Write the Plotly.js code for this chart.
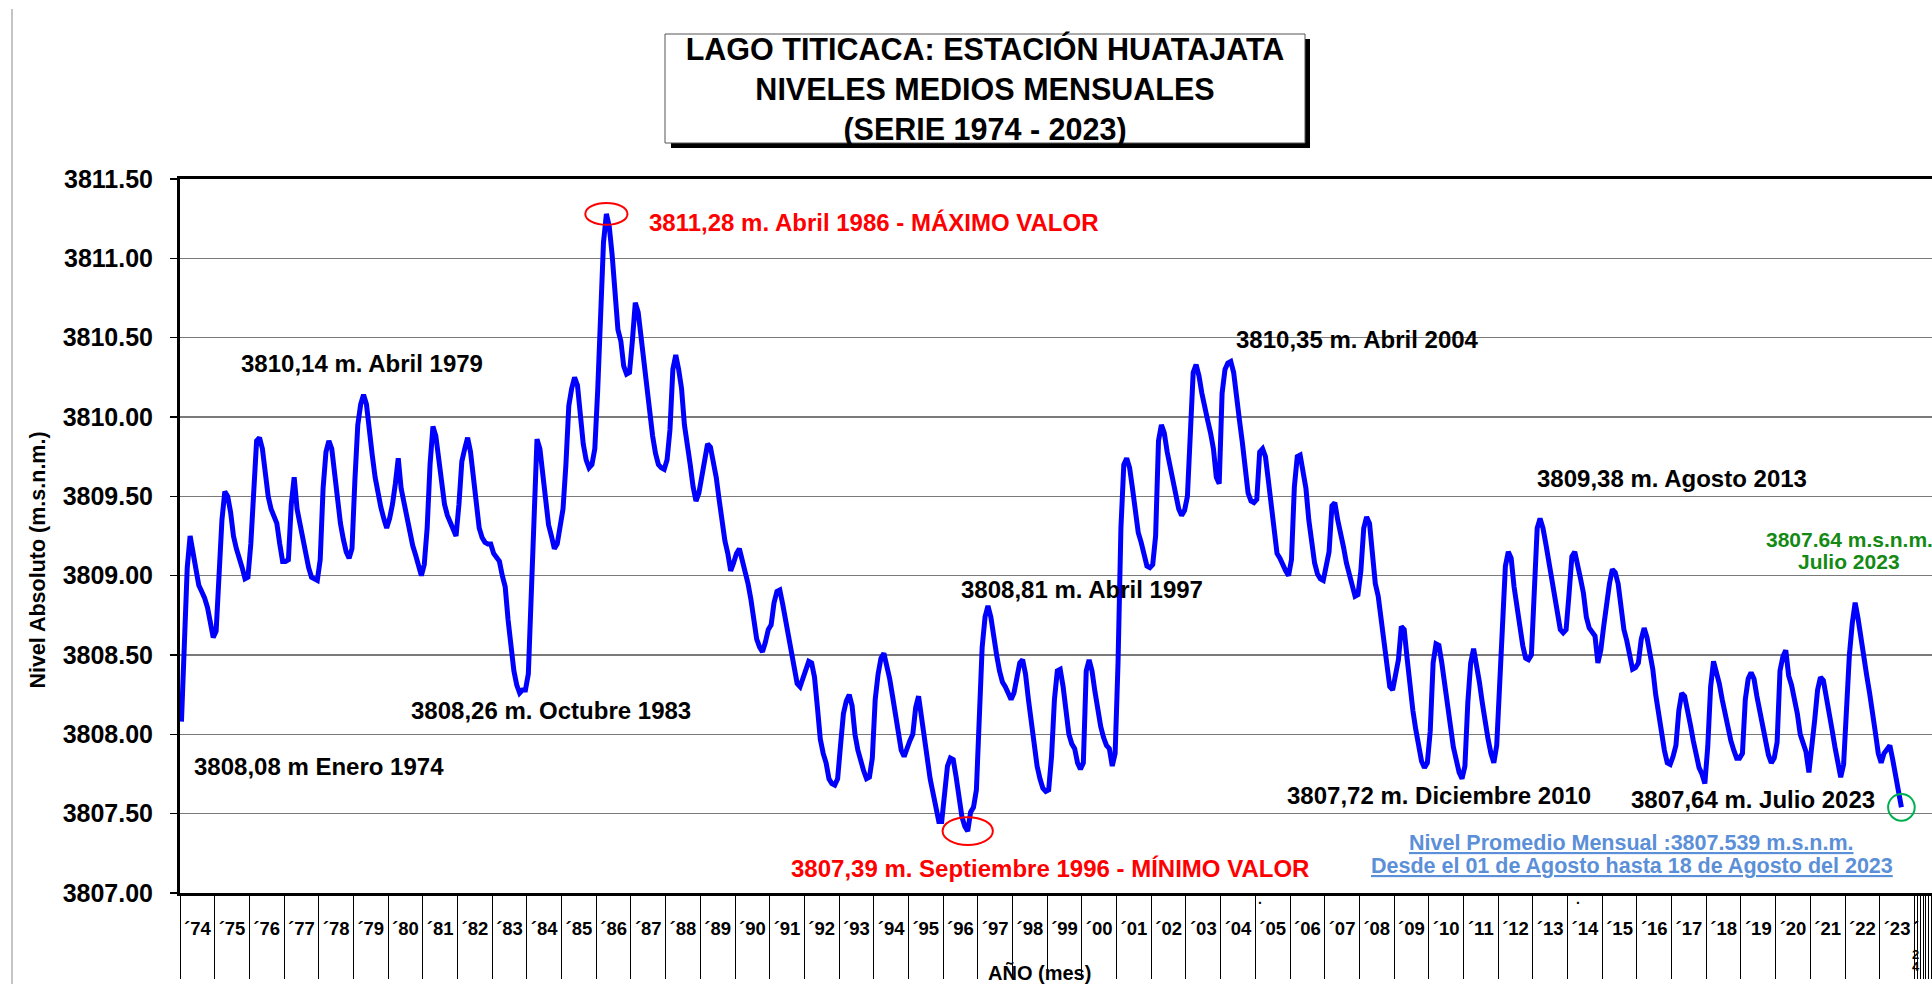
<!DOCTYPE html>
<html>
<head>
<meta charset="utf-8">
<script src="https://cdn.plot.ly/plotly-3.0.1.min.js"></script>
<style>html,body{margin:0;padding:0;background:#fff;}#chart{width:1932px;height:984px;}</style>
</head>
<body>
<div id="chart"></div>
<script>
// Monthly mean levels (m.s.n.m.), Huatajata station, Jan 1974 - Aug 2023
const nivel1974_1979 = [
 3808.08,3808.60,3809.05,3809.25,3809.15,3809.02,3808.94,3808.90,3808.86,3808.80,3808.70,3808.61,
 3808.65,3809.00,3809.35,3809.53,3809.50,3809.40,3809.25,3809.17,3809.12,3809.05,3808.98,3808.99,
 3809.20,3809.60,3809.85,3809.87,3809.80,3809.65,3809.50,3809.42,3809.38,3809.33,3809.20,3809.09,
 3809.09,3809.10,3809.45,3809.62,3809.42,3809.33,3809.25,3809.13,3809.05,3808.99,3808.98,3808.97,
 3809.10,3809.55,3809.78,3809.85,3809.80,3809.62,3809.48,3809.33,3809.23,3809.15,3809.11,3809.17,
 3809.60,3809.95,3810.08,3810.14,3810.08,3809.88,3809.76,3809.62,3809.50,3809.43,3809.36,3809.30
];
const nivel1980s = [
 3809.36,3809.45,3809.58,3809.74,3809.55,3809.45,3809.35,3809.25,3809.19,3809.13,3809.07,3809.00,
 3809.07,3809.30,3809.70,3809.94,3809.88,3809.75,3809.58,3809.45,3809.38,3809.33,3809.29,3809.25,
 3809.45,3809.72,3809.80,3809.87,3809.78,3809.63,3809.45,3809.30,3809.24,3809.21,3809.20,3809.20,
 3809.14,3809.11,3809.09,3809.00,3808.93,3808.72,3808.56,3808.40,3808.31,3808.26,3808.28,3808.28,
 3808.38,3808.95,3809.50,3809.86,3809.80,3809.62,3809.45,3809.32,3809.25,3809.17,3809.20,3809.32,
 3809.42,3809.70,3810.07,3810.18,3810.25,3810.20,3810.00,3809.83,3809.73,3809.68,3809.70,3809.80,
 3810.17,3810.72,3811.10,3811.28,3811.20,3811.02,3810.82,3810.55,3810.48,3810.32,3810.27,3810.28,
 3810.48,3810.72,3810.66,3810.50,3810.33,3810.17,3810.02,3809.88,3809.77,3809.70,3809.68,3809.67,
 3809.73,3809.92,3810.30,3810.39,3810.30,3810.18,3809.95,3809.84,3809.70,3809.56,3809.47,3809.52,
 3809.62,3809.75,3809.83,3809.81,3809.72,3809.62,3809.48,3809.34,3809.22,3809.14,3809.03,3809.08
];
const nivel1990s = [
 3809.14,3809.17,3809.10,3809.03,3808.95,3808.85,3808.74,3808.60,3808.55,3808.52,3808.58,3808.66,
 3808.69,3808.83,3808.90,3808.91,3808.82,3808.72,3808.62,3808.50,3808.40,3808.32,3808.30,3808.35,
 3808.42,3808.46,3808.45,3808.36,3808.17,3807.97,3807.88,3807.82,3807.72,3807.69,3807.68,3807.72,
 3807.93,3808.13,3808.21,3808.25,3808.18,3808.00,3807.90,3807.82,3807.77,3807.72,3807.73,3807.85,
 3808.22,3808.38,3808.48,3808.51,3808.44,3808.35,3808.24,3808.12,3807.97,3807.90,3807.86,3807.92,
 3807.96,3808.00,3808.17,3808.24,3808.10,3807.98,3807.84,3807.72,3807.63,3807.54,3807.45,3807.45,
 3807.62,3807.80,3807.85,3807.84,3807.73,3807.58,3807.48,3807.42,3807.39,3807.51,3807.54,3807.65,
 3808.15,3808.55,3808.74,3808.81,3808.74,3808.60,3808.50,3808.40,3808.33,3808.30,3808.26,3808.22,
 3808.26,3808.38,3808.45,3808.47,3808.38,3808.22,3808.07,3807.93,3807.80,3807.72,3807.66,3807.64,
 3807.65,3807.86,3808.22,3808.40,3808.41,3808.30,3808.12,3808.00,3807.94,3807.91,3807.82,3807.78
];
const nivel2000s = [
 3807.82,3808.40,3808.47,3808.40,3808.27,3808.15,3808.05,3807.98,3807.93,3807.91,3807.80,3807.88,
 3808.45,3809.30,3809.70,3809.74,3809.68,3809.55,3809.40,3809.27,3809.21,3809.13,3809.06,3809.05,
 3809.07,3809.25,3809.85,3809.95,3809.90,3809.78,3809.68,3809.60,3809.52,3809.42,3809.38,3809.41,
 3809.50,3809.90,3810.28,3810.33,3810.26,3810.15,3810.05,3809.98,3809.90,3809.80,3809.62,3809.58,
 3810.15,3810.30,3810.34,3810.35,3810.28,3810.09,3809.98,3809.84,3809.67,3809.52,3809.47,3809.46,
 3809.48,3809.78,3809.80,3809.75,3809.60,3809.45,3809.30,3809.14,3809.11,3809.06,3809.03,3809.00,
 3809.10,3809.56,3809.75,3809.76,3809.67,3809.55,3809.35,3809.20,3809.08,3809.01,3808.98,3808.97,
 3809.06,3809.15,3809.44,3809.46,3809.35,3809.28,3809.18,3809.08,3809.00,3808.92,3808.87,3808.88,
 3809.03,3809.30,3809.37,3809.33,3809.10,3808.95,3808.87,3808.72,3808.55,3808.40,3808.30,3808.28,
 3808.39,3808.47,3808.68,3808.66,3808.48,3808.30,3808.15,3808.03,3807.92,3807.83,3807.79,3807.82
];
const nivel2010s = [
 3808.02,3808.45,3808.57,3808.56,3808.45,3808.32,3808.18,3808.03,3807.92,3807.84,3807.76,3807.72,
 3807.80,3808.20,3808.45,3808.54,3808.45,3808.33,3808.20,3808.07,3807.97,3807.88,3807.82,3807.93,
 3808.30,3808.72,3809.06,3809.15,3809.11,3808.93,3808.80,3808.66,3808.56,3808.48,3808.47,3808.50,
 3808.85,3809.30,3809.36,3809.30,3809.20,3809.10,3809.00,3808.90,3808.78,3808.66,3808.64,3808.66,
 3808.88,3809.12,3809.15,3809.08,3808.98,3808.89,3808.74,3808.67,3808.65,3808.62,3808.45,3808.53,
 3808.68,3808.83,3808.95,3809.04,3809.02,3808.95,3808.78,3808.66,3808.59,3808.50,3808.41,3808.42,
 3808.45,3808.60,3808.67,3808.61,3808.50,3808.41,3808.25,3808.12,3808.00,3807.90,3807.82,3807.81,
 3807.86,3807.93,3808.15,3808.26,3808.24,3808.16,3808.06,3807.96,3807.87,3807.79,3807.75,3807.69,
 3807.92,3808.30,3808.46,3808.40,3808.32,3808.22,3808.13,3808.04,3807.96,3807.90,3807.85,3807.85,
 3807.88,3808.22,3808.35,3808.39,3808.35,3808.24,3808.14,3808.03,3807.94,3807.87,3807.82,3807.85
];
const nivel2020s = [
 3807.95,3808.40,3808.49,3808.53,3808.37,3808.31,3808.22,3808.13,3808.00,3807.95,3807.89,3807.76,
 3807.90,3808.09,3808.28,3808.36,3808.34,3808.25,3808.13,3808.03,3807.92,3807.80,3807.73,3807.81,
 3808.18,3808.50,3808.70,3808.83,3808.73,3808.60,3808.46,3808.37,3808.26,3808.15,3808.01,3807.88,
 3807.82,3807.88,3807.90,3807.93,3807.84,3807.72,3807.64,3807.54
];
const yearLabels = ["´74","´75","´76","´77","´78","´79","´80","´81","´82","´83","´84","´85","´86","´87","´88","´89",
 "´90","´91","´92","´93","´94","´95","´96","´97","´98","´99","´00","´01","´02","´03","´04","´05","´06","´07","´08","´09",
 "´10","´11","´12","´13","´14","´15","´16","´17","´18","´19","´20","´21","´22","´23"];
const extraLabel = "´";

const niveles = [].concat(nivel1974_1979, nivel1980s, nivel1990s, nivel2000s, nivel2010s, nivel2020s);
const meses = niveles.map((v, i) => i + 0.5);

// axis helpers (month index axis, Jan 1974 = 0)
const nYears = yearLabels.length;
const yearBounds = [];
for (let k = 0; k <= nYears; k++) yearBounds.push(12 * k);
for (let k = 1; k <= 6; k++) yearBounds.push(12 * nYears + k);
const yearMids = yearLabels.map((l, k) => 12 * k + 6).concat([12 * nYears + 0.6]);
const yearTicktext = yearLabels.concat([extraLabel]);

const FONT = "Liberation Sans, Arial, Helvetica, sans-serif";
const iMax = niveles.indexOf(Math.max(...niveles));
const iMin = niveles.indexOf(Math.min(...niveles));
const iLast = niveles.length - 1;

function ell(i, dx, dy, color) {
  return {type: 'circle', xref: 'x', yref: 'y', x0: meses[i] - dx, x1: meses[i] + dx,
          y0: niveles[i] - dy, y1: niveles[i] + dy, line: {color: color, width: 2}, fillcolor: 'rgba(0,0,0,0)'};
}
function px(X) { return (X - 180) / 1752; }
function py(Y) { return (893 - Y) / 714; }

function ann(text, x, y, color, size, extra) {
  return Object.assign({text: text, x: x, y: y, xref: 'x', yref: 'y', showarrow: false,
    xanchor: 'center', yanchor: 'middle',
    font: {family: FONT, size: size, color: color, weight: 'bold'}}, extra || {});
}

const annotations = [
  ann("3811,28 m. Abril 1986 - MÁXIMO VALOR", 239.9, 3811.225, "#ff0000", 24),
  ann("3810,14 m. Abril 1979", 63.1, 3810.339, "#000000", 24),
  ann("3810,35 m. Abril 2004", 407.2, 3810.491, "#000000", 24),
  ann("3809,38 m. Agosto 2013", 516.2, 3809.61, "#000000", 24),
  ann("3807.64 m.s.n.m.", 577.4, 3809.227, "#148a14", 21),
  ann("Julio 2023", 577.4, 3809.09, "#148a14", 21),
  ann("3808,81 m. Abril 1997", 312.0, 3808.913, "#000000", 24),
  ann("3808,26 m. Octubre 1983", 128.3, 3808.151, "#000000", 24),
  ann("3808,08 m Enero 1974", 48.1, 3807.799, "#000000", 24),
  ann("3807,72 m. Diciembre 2010", 435.4, 3807.614, "#000000", 24),
  ann("3807,64 m. Julio 2023", 544.3, 3807.589, "#000000", 24),
  ann("3807,39 m. Septiembre 1996 - MÍNIMO VALOR", 301.1, 3807.152, "#ff0000", 24),
  ann("<u>Nivel Promedio Mensual :3807.539 m.s.n.m.</u>", 502.2, 3807.318, "#5b8fd8", 21.5),
  ann("<u>Desde el 01 de Agosto hasta 18 de Agosto del 2023</u>", 502.3, 3807.173, "#5b8fd8", 21.5),
  ann("AÑO (mes)", 297.2, py(973.4), "#000000", 20, {yref: 'paper'}),
  ann("Nivel Absoluto (m.s.n.m.)", px(38), py(560.6), "#000000", 21.5, {xref: 'paper', yref: 'paper', textangle: -90}),
  ann(".", 373.6, py(899), "#000000", 14, {yref: 'paper'}),
  ann(".", 483.6, py(899), "#000000", 14, {yref: 'paper'}),
  ann("2", 600.5, py(955), "#000000", 13, {yref: 'paper'}),
  ann("4", 600.5, py(966), "#000000", 13, {yref: 'paper'})
];

const shapes = [
  {type: 'rect', xref: 'paper', yref: 'paper', x0: px(671), x1: px(1310), y0: py(148), y1: py(39),
   fillcolor: '#000000', line: {width: 0}},
  {type: 'rect', xref: 'paper', yref: 'paper', x0: px(665), x1: px(1305), y0: py(143), y1: py(34),
   fillcolor: '#ffffff', line: {color: '#555555', width: 1}},
  {type: 'line', xref: 'paper', yref: 'paper', x0: px(12), x1: px(12), y0: py(984), y1: py(9),
   line: {color: '#8a8a8a', width: 1}},
  ell(iMax, 7.3, 0.069, '#ff0000'),
  ell(iMin, 8.7, 0.088, '#ff0000'),
  ell(iLast, 4.6, 0.084, '#00b050')
];

const traces = [
  {x: meses, y: niveles, type: 'scatter', mode: 'lines', line: {color: '#0000ff', width: 5},
   hoverinfo: 'x+y', showlegend: false},
  {x: [], y: [], type: 'scatter', mode: 'lines', xaxis: 'x2', yaxis: 'y', showlegend: false, hoverinfo: 'skip'}
];

const layout = {
  width: 1932, height: 984,
  margin: {l: 180, r: 0, t: 179, b: 91, pad: 0},
  paper_bgcolor: '#ffffff', plot_bgcolor: '#ffffff',
  showlegend: false,
  title: {
    text: "LAGO TITICACA: ESTACIÓN HUATAJATA<br>NIVELES MEDIOS MENSUALES<br>(SERIE 1974 - 2023)",
    font: {family: FONT, size: 30.5, color: '#000000', weight: 'bold'},
    xref: 'container', yref: 'container', x: 985 / 1932, xanchor: 'center',
    y: 1 - 60.2 / 984, yanchor: 'middle'
  },
  xaxis: {
    range: [0, 1752 / 2.8907], autorange: false, fixedrange: true,
    tickmode: 'array', tickvals: yearBounds, showticklabels: false,
    ticks: 'outside', ticklen: 83, tickwidth: 1, tickcolor: '#000000',
    showline: true, linewidth: 3, linecolor: '#000000', mirror: true,
    showgrid: false, zeroline: false
  },
  xaxis2: {
    overlaying: 'x', anchor: 'y', side: 'bottom',
    range: [0, 1752 / 2.8907], autorange: false, fixedrange: true,
    tickmode: 'array', tickvals: yearMids, ticktext: yearTicktext,
    ticks: '', showline: false, showgrid: false, zeroline: false,
    ticklabelstandoff: 22,
    tickfont: {family: FONT, size: 18.5, color: '#000000', weight: 'bold'}
  },
  yaxis: {
    range: [3807, 3811.5], autorange: false, fixedrange: true,
    tickmode: 'linear', tick0: 3807, dtick: 0.5, tickformat: '.2f',
    ticks: 'outside', ticklen: 7, tickwidth: 1.5, tickcolor: '#000000',
    ticklabelstandoff: 12,
    tickfont: {family: FONT, size: 25, color: '#000000', weight: 'bold'},
    showline: true, linewidth: 3, linecolor: '#000000',
    showgrid: true, gridcolor: '#7a7a7a', gridwidth: 1.3, zeroline: false
  },
  shapes: shapes,
  annotations: annotations
};

Plotly.newPlot('chart', traces, layout, {displayModeBar: false, staticPlot: true});
</script>
</body>
</html>
